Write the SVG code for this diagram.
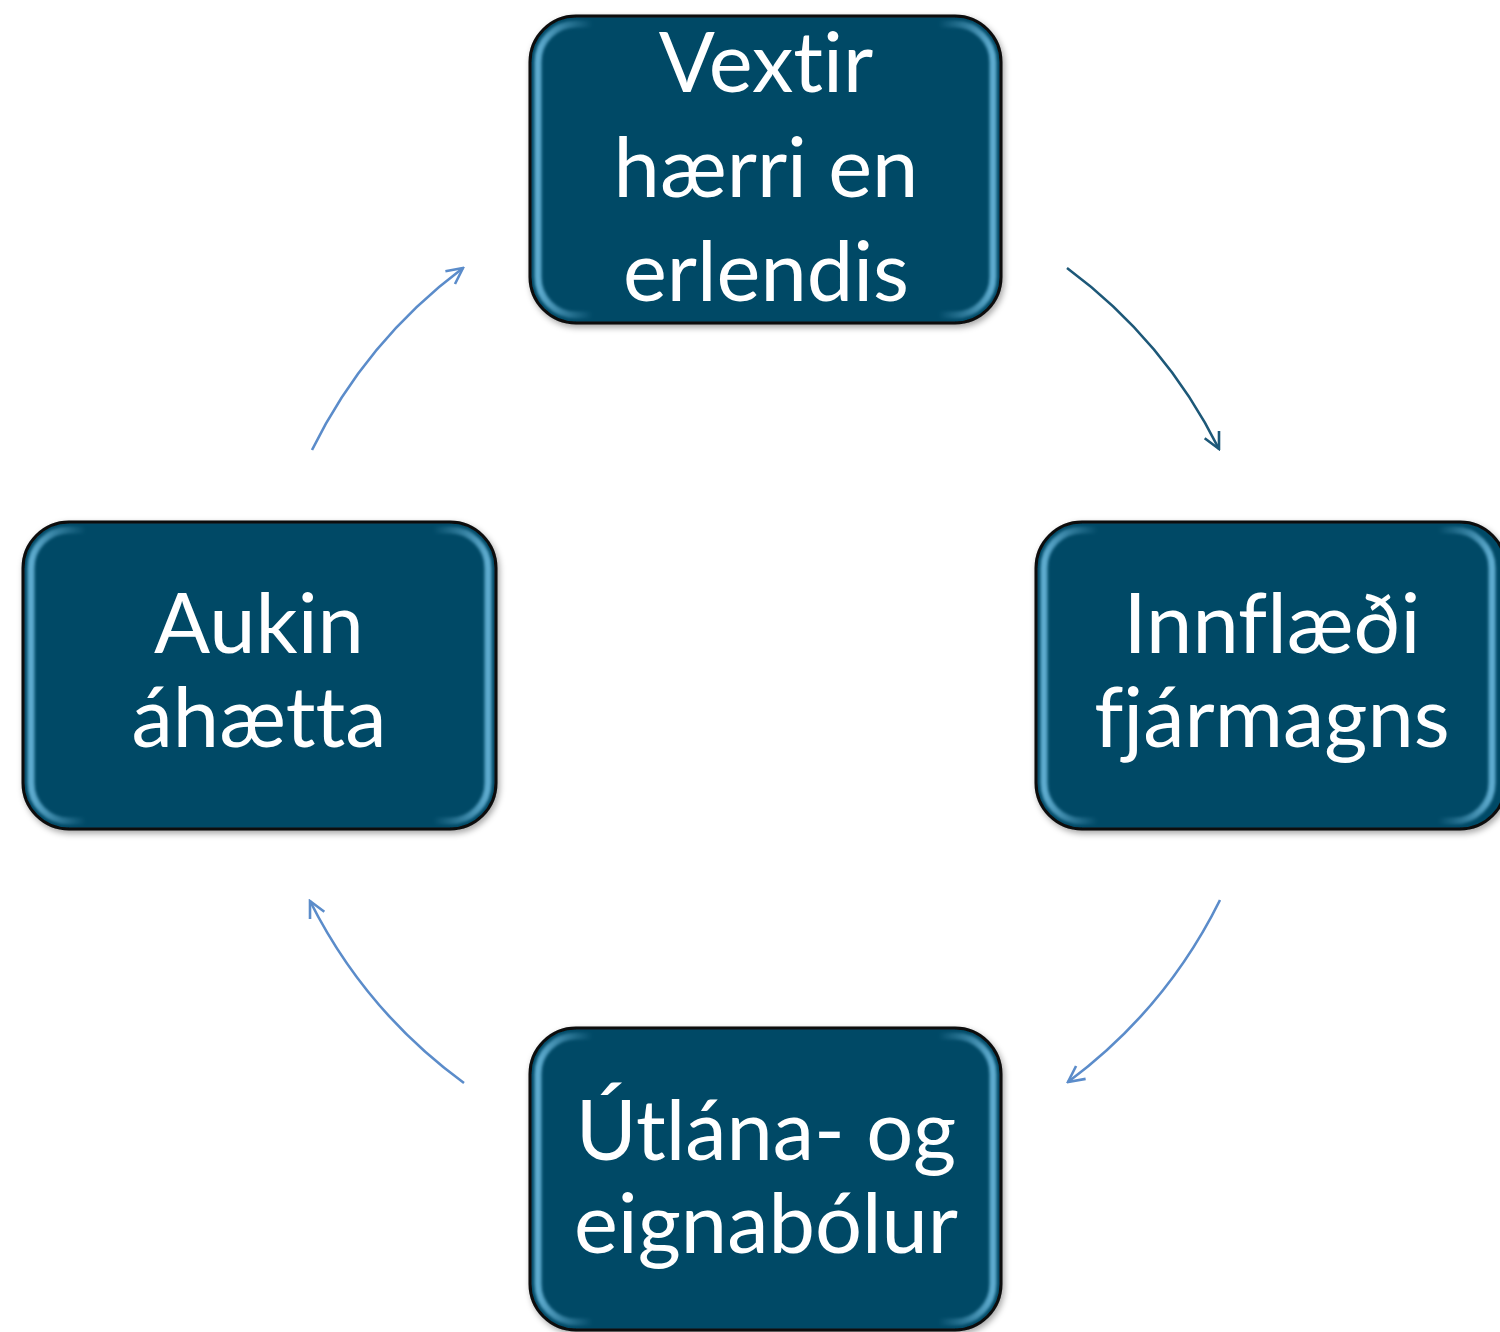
<svg xmlns="http://www.w3.org/2000/svg" width="1500" height="1332" viewBox="0 0 1500 1332">
<defs>
<style>
.box{fill:#044a66;stroke:#0b0b0b;stroke-width:3}
.bevel{fill:none;stroke:url(#bev);stroke-width:7;filter:url(#soft)}
.lbl{font-family:Lato,"Open Sans","Liberation Sans",sans-serif;font-size:83px;fill:#ffffff;text-anchor:middle;font-variant-ligatures:none;font-feature-settings:"liga" 0}
.c1{fill:none;stroke:#1d5878;stroke-width:2.6}
.c2{fill:none;stroke:#5b8cca;stroke-width:2.6}
</style>
<linearGradient id="bev" x1="0" y1="0" x2="1" y2="0">
<stop offset="0" stop-color="#6ab8dc" stop-opacity="0.9"/>
<stop offset="0.12" stop-color="#6ab8dc" stop-opacity="0"/>
<stop offset="0.88" stop-color="#6ab8dc" stop-opacity="0"/>
<stop offset="1" stop-color="#6ab8dc" stop-opacity="0.9"/>
</linearGradient>
<filter id="soft" x="-5%" y="-5%" width="110%" height="110%"><feGaussianBlur stdDeviation="1.5"/></filter>
<filter id="shadow" x="-10%" y="-10%" width="120%" height="120%"><feDropShadow dx="2" dy="3" stdDeviation="3" flood-color="#000" flood-opacity="0.35"/></filter>
<marker id="a1" viewBox="0 0 20 20" refX="18" refY="10" markerWidth="20" markerHeight="20" markerUnits="userSpaceOnUse" orient="auto"><path d="M2,2 L18,10 L2,18" fill="none" stroke="#1d5878" stroke-width="2.6"/></marker>
<marker id="a2" viewBox="0 0 20 20" refX="18" refY="10" markerWidth="20" markerHeight="20" markerUnits="userSpaceOnUse" orient="auto"><path d="M2,2 L18,10 L2,18" fill="none" stroke="#5b8cca" stroke-width="2.6"/></marker>
</defs>
<rect width="1500" height="1332" fill="#ffffff"/>
<g id="connectors">
<path class="c1" d="M1067,268 A507,507 0 0 1 1219,449" marker-end="url(#a1)"/>
<path class="c2" d="M1220,900 A507,507 0 0 1 1068,1082" marker-end="url(#a2)"/>
<path class="c2" d="M464,1083 A507,507 0 0 1 310,901" marker-end="url(#a2)"/>
<path class="c2" d="M312,450 A507,507 0 0 1 463,268" marker-end="url(#a2)"/>
</g>
<g id="node-top">
<rect class="box" x="530" y="16" width="471" height="307" rx="46" filter="url(#shadow)"/>
<rect class="bevel" x="538" y="24" width="455" height="291" rx="38"/>
<text class="lbl" x="766" y="92">Vextir</text>
<text class="lbl" x="766" y="197">hærri en</text>
<text class="lbl" x="766" y="301">erlendis</text>
</g>
<g id="node-right">
<rect class="box" x="1036" y="522" width="470" height="307" rx="46" filter="url(#shadow)"/>
<rect class="bevel" x="1044" y="530" width="448" height="291" rx="38"/>
<text class="lbl" x="1272" y="653">Innflæði</text>
<text class="lbl" x="1272" y="747">fjármagns</text>
</g>
<g id="node-bottom">
<rect class="box" x="530" y="1028" width="471" height="302" rx="46" filter="url(#shadow)"/>
<rect class="bevel" x="538" y="1036" width="455" height="286" rx="38"/>
<text class="lbl" x="766" y="1160">Útlána- og</text>
<text class="lbl" x="766" y="1253">eignabólur</text>
</g>
<g id="node-left">
<rect class="box" x="23" y="522" width="473" height="307" rx="46" filter="url(#shadow)"/>
<rect class="bevel" x="31" y="530" width="457" height="291" rx="38"/>
<text class="lbl" x="259" y="653">Aukin</text>
<text class="lbl" x="259" y="747">áhætta</text>
</g>
</svg>
